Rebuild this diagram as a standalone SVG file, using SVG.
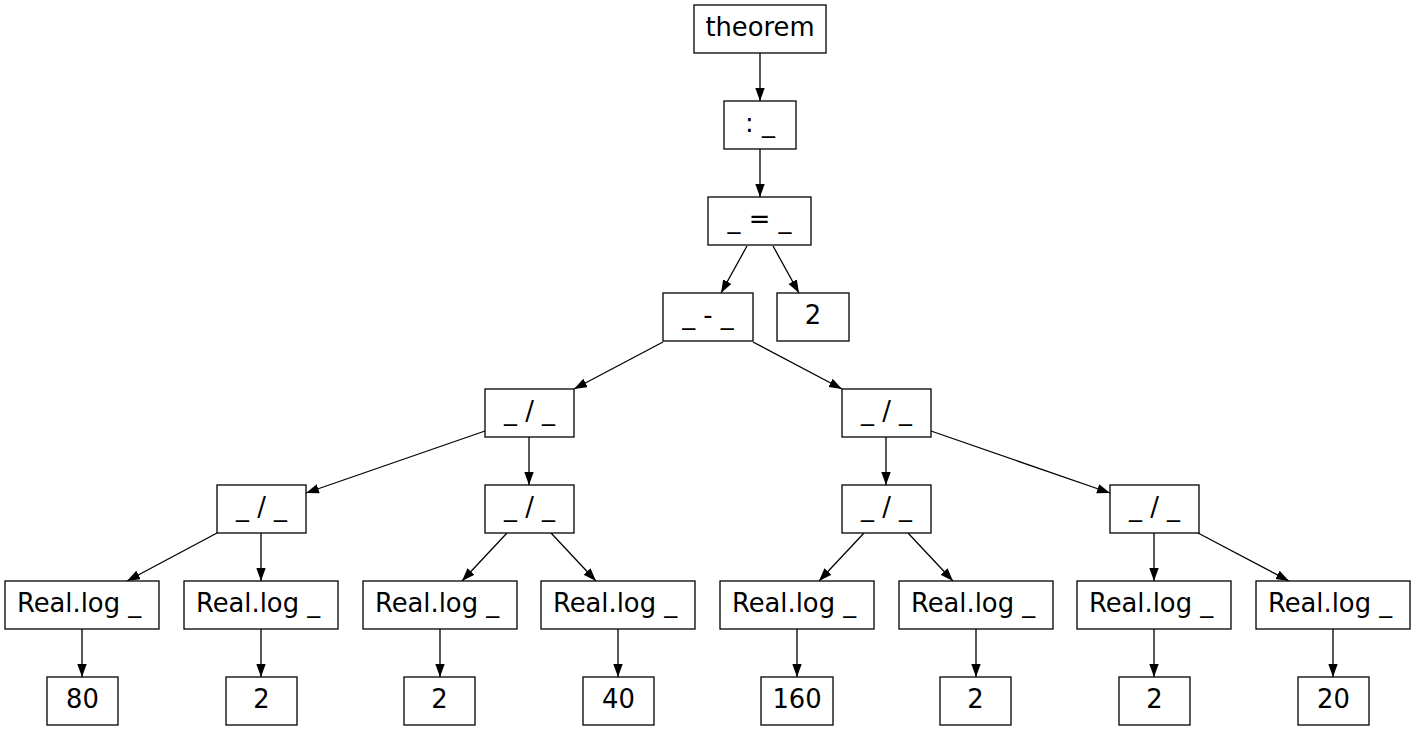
<svg xmlns="http://www.w3.org/2000/svg" width="1416" height="731" viewBox="0 0 1416 731">
<style>
.n rect{fill:#fff;stroke:#000;stroke-width:1.3}
.n text{font-family:"DejaVu Sans",sans-serif;font-size:25.8px;text-anchor:middle;fill:#000}
#edges line{stroke:#000;stroke-width:1.3;marker-end:url(#ah)}
</style>
<defs>
<marker id="ah" markerUnits="userSpaceOnUse" markerWidth="13" markerHeight="10" refX="13" refY="4.7" orient="auto"><path d="M0,0 L13,4.7 L0,9.4 z" fill="#000"/></marker>
</defs>
<rect width="1416" height="731" fill="#fff"/>
<g id="edges">
<line x1="760" y1="53" x2="760" y2="101"/>
<line x1="760" y1="149" x2="760" y2="197"/>
<line x1="747" y1="246" x2="721" y2="293"/>
<line x1="773" y1="246" x2="799" y2="293"/>
<line x1="663" y1="342" x2="574" y2="389"/>
<line x1="753" y1="342" x2="842" y2="389"/>
<line x1="485" y1="431" x2="306" y2="493"/>
<line x1="529" y1="437" x2="529" y2="485"/>
<line x1="886" y1="437" x2="886" y2="485"/>
<line x1="931" y1="431" x2="1110" y2="493"/>
<line x1="217" y1="533" x2="127" y2="581"/>
<line x1="261" y1="533" x2="261" y2="581"/>
<line x1="507" y1="533" x2="462" y2="581"/>
<line x1="551" y1="533" x2="596" y2="581"/>
<line x1="864" y1="533" x2="819" y2="581"/>
<line x1="908" y1="533" x2="953" y2="581"/>
<line x1="1154" y1="533" x2="1154" y2="581"/>
<line x1="1198" y1="533" x2="1289" y2="581"/>
<line x1="82" y1="629" x2="82" y2="677"/>
<line x1="261" y1="629" x2="261" y2="677"/>
<line x1="440" y1="629" x2="440" y2="677"/>
<line x1="618" y1="629" x2="618" y2="677"/>
<line x1="797" y1="629" x2="797" y2="677"/>
<line x1="976" y1="629" x2="976" y2="677"/>
<line x1="1154" y1="629" x2="1154" y2="677"/>
<line x1="1333" y1="629" x2="1333" y2="677"/>
</g>
<g id="n_theorem" class="n"><rect x="694" y="5" width="132" height="48"/><text x="760" y="36">theorem</text></g>
<g id="n_colon" class="n"><rect x="724" y="101" width="72" height="48"/><text x="760" y="132">: _</text></g>
<g id="n_eq" class="n"><rect x="708" y="197" width="103" height="48"/><text x="759.5" y="228">_ = _</text></g>
<g id="n_sub" class="n"><rect x="663" y="293" width="90" height="48"/><text x="708" y="324">_ - _</text></g>
<g id="n_two_a" class="n"><rect x="777" y="293" width="72" height="48"/><text x="813" y="324">2</text></g>
<g id="n_div_l" class="n"><rect x="485" y="389" width="89" height="48"/><text x="529.5" y="420">_ / _</text></g>
<g id="n_div_r" class="n"><rect x="842" y="389" width="89" height="48"/><text x="886.5" y="420">_ / _</text></g>
<g id="n_div_1" class="n"><rect x="217" y="485" width="89" height="48"/><text x="261.5" y="516">_ / _</text></g>
<g id="n_div_2" class="n"><rect x="485" y="485" width="89" height="48"/><text x="529.5" y="516">_ / _</text></g>
<g id="n_div_3" class="n"><rect x="842" y="485" width="89" height="48"/><text x="886.5" y="516">_ / _</text></g>
<g id="n_div_4" class="n"><rect x="1110" y="485" width="89" height="48"/><text x="1154.5" y="516">_ / _</text></g>
<g id="n_log_1" class="n"><rect x="5" y="581" width="154" height="48"/><text x="79" y="612">Real.log _</text></g>
<g id="n_log_2" class="n"><rect x="184" y="581" width="154" height="48"/><text x="258" y="612">Real.log _</text></g>
<g id="n_log_3" class="n"><rect x="363" y="581" width="154" height="48"/><text x="437" y="612">Real.log _</text></g>
<g id="n_log_4" class="n"><rect x="541" y="581" width="154" height="48"/><text x="615" y="612">Real.log _</text></g>
<g id="n_log_5" class="n"><rect x="720" y="581" width="154" height="48"/><text x="794" y="612">Real.log _</text></g>
<g id="n_log_6" class="n"><rect x="899" y="581" width="154" height="48"/><text x="973" y="612">Real.log _</text></g>
<g id="n_log_7" class="n"><rect x="1077" y="581" width="154" height="48"/><text x="1151" y="612">Real.log _</text></g>
<g id="n_log_8" class="n"><rect x="1256" y="581" width="154" height="48"/><text x="1330" y="612">Real.log _</text></g>
<g id="n_80" class="n"><rect x="47" y="677" width="71" height="48"/><text x="82.5" y="708">80</text></g>
<g id="n_2b" class="n"><rect x="226" y="677" width="71" height="48"/><text x="261.5" y="708">2</text></g>
<g id="n_2c" class="n"><rect x="404" y="677" width="71" height="48"/><text x="439.5" y="708">2</text></g>
<g id="n_40" class="n"><rect x="583" y="677" width="71" height="48"/><text x="618.5" y="708">40</text></g>
<g id="n_160" class="n"><rect x="761" y="677" width="72" height="48"/><text x="797" y="708">160</text></g>
<g id="n_2d" class="n"><rect x="940" y="677" width="71" height="48"/><text x="975.5" y="708">2</text></g>
<g id="n_2e" class="n"><rect x="1119" y="677" width="71" height="48"/><text x="1154.5" y="708">2</text></g>
<g id="n_20" class="n"><rect x="1298" y="677" width="71" height="48"/><text x="1333.5" y="708">20</text></g>
</svg>
